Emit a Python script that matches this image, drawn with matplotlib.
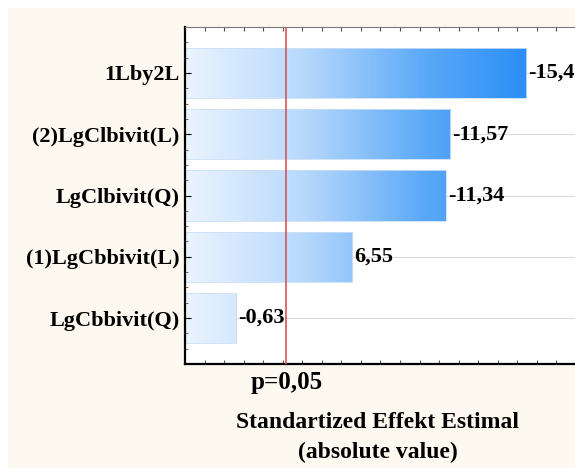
import numpy as np
import matplotlib.pyplot as plt
from matplotlib.colors import LinearSegmentedColormap
from matplotlib.patches import Rectangle

# data
factors = ['1Lby2L', '(2)LgClbivit(L)', 'LgClbivit(Q)', '(1)LgCbbivit(L)', 'LgCbbivit(Q)']
effects = [-15.46, -11.57, -11.34, 6.55, -0.63]
value_labels = ['-15,46', '-11,57', '-11,34', '6,55', '-0,63']
p_crit = 3.182
xmin, xmax = -2.0, 17.95

plt.rcParams['font.family'] = ['Liberation Serif', 'DejaVu Serif']

fig = plt.figure(figsize=(5.75, 4.68), dpi=100)
fig.patch.set_facecolor('white')
fig.patches.append(Rectangle((8 / 575, 0), 1, 460 / 468, transform=fig.transFigure,
                             facecolor='#fdf9f0', edgecolor='none', zorder=-10))

ax = fig.add_axes([185 / 575, 1 - 364 / 468, 390 / 575, (364 - 27) / 468])
ax.set_facecolor('white')

cmap = LinearSegmentedColormap.from_list(
    'bl', [(0, '#ebf4fe'), (0.3, '#b8d9fc'), (0.62, '#5aa8f8'),
           (0.88, '#2a8ef6'), (1, '#1a82f2')])
grad = np.linspace(0, 1, 512).reshape(1, -1)

ypos = np.arange(len(factors))
h = 0.82
ax.set_xlim(xmin, xmax)
ax.set_ylim(len(factors) - 0.25, -0.75)

for y in ypos:
    ax.axhline(y, color='#dcdcdc', lw=0.8, zorder=0)

bars = ax.barh(ypos, np.abs(effects) - xmin, left=xmin, height=h,
               color='none', edgecolor='#c9def5', lw=0.6, zorder=2)
for bar in bars:
    im = ax.imshow(grad, extent=[xmin, xmax, len(factors), -1], aspect='auto',
                   cmap=cmap, zorder=1.5, interpolation='bicubic')
    im.set_clip_path(bar)

for y, v, lab in zip(ypos, effects, value_labels):
    ax.text(abs(v) + 0.1, y, lab, va='center', ha='left', fontsize=16,
            fontweight='bold', zorder=3, clip_on=False)

ax.axvline(p_crit, color='#d9545a', lw=1.2, zorder=4)

ax.set_yticks(ypos)
ax.set_yticklabels(factors, fontsize=16, fontweight='bold')
ax.set_yticks(np.arange(-0.75, len(factors), 0.25), minor=True)
ax.set_xticks(np.arange(-1, 18, 1))
ax.tick_params(axis='x', direction='in', length=3, top=True, labelbottom=False,
               color='#555555')
ax.tick_params(axis='y', which='major', direction='in', length=4, pad=4)
ax.tick_params(axis='y', which='minor', direction='in', length=2, color='#555555')

for s in ['left', 'bottom']:
    ax.spines[s].set_linewidth(1.6)
ax.spines['top'].set_color('#777777')
ax.spines['right'].set_visible(False)

fig.text(287 / 575, 1 - 383 / 468, 'p=0,05', ha='center', va='center',
         fontsize=18, fontweight='bold')
fig.text(378 / 575, 1 - 423 / 468, 'Standartized Effekt Estimal', ha='center',
         va='center', fontsize=17, fontweight='bold')
fig.text(378 / 575, 1 - 452 / 468, '(absolute value)', ha='center',
         va='center', fontsize=17, fontweight='bold')

fig.savefig('out.png', dpi=100, facecolor=fig.get_facecolor())
